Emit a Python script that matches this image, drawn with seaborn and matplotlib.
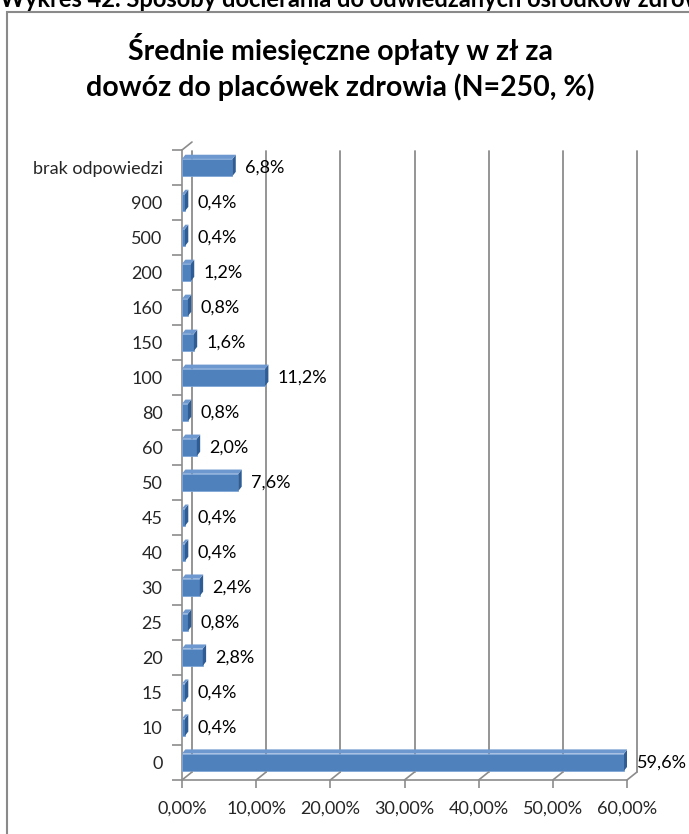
import matplotlib
matplotlib.use("Agg")
import matplotlib.pyplot as plt
import matplotlib.transforms as mtransforms
import seaborn as sns
import pandas as pd
from matplotlib.patches import Polygon, Rectangle
from matplotlib.lines import Line2D

categories = ["brak odpowiedzi", "900", "500", "200", "160", "150", "100", "80",
              "60", "50", "45", "40", "30", "25", "20", "15", "10", "0"]
values = [6.8, 0.4, 0.4, 1.2, 0.8, 1.6, 11.2, 0.8, 2.0, 7.6, 0.4, 0.4, 2.4, 0.8,
          2.8, 0.4, 0.4, 59.6]
x_ticks = [0, 10, 20, 30, 40, 50, 60]
x_ticklabels = ["0,00%", "10,00%", "20,00%", "30,00%", "40,00%", "50,00%", "60,00%"]
title = "Średnie miesięczne opłaty w zł za\ndowóz do placówek zdrowia (N=250, %)"
header = "Wykres 42. Sposoby docierania do odwiedzanych ośrodków zdrowia"

sns.set_style("white")
plt.rcParams["font.family"] = ["Lato", "DejaVu Sans"]

df = pd.DataFrame({"cat": categories, "val": values})

W, H = 689, 834
fig = plt.figure(figsize=(6.89, 8.34), dpi=100)
ax = fig.add_axes([182 / W, 54 / H, 445 / W, 630 / H])

# outer chart frame
fig.patches.append(Rectangle((7 / W, -0.05), 1.2, 1.05 - 12 / H,
                             transform=fig.transFigure, fill=False,
                             edgecolor="#8a8a8a", lw=1.5))
fig.text(0.0, 1 - 7 / H, header, fontsize=17, fontweight="bold",
         va="baseline", ha="left", color="black")
fig.text(340 / W, 1 - 67 / H, title, fontsize=20.5, fontweight="bold",
         ha="center", va="center", linespacing=1.35, color="black")

sns.barplot(data=df, y="cat", x="val", orient="h", color="#4F81BD",
            width=0.49, saturation=1, edgecolor="#7FA6D6", linewidth=0.6,
            ax=ax, zorder=3)

# pseudo 3D faces on each bar
dx, dy = 0.45, 0.12
for p in list(ax.patches):
    x0, y0 = p.get_x(), p.get_y()
    w, h = p.get_width(), p.get_height()
    x1, y1 = x0 + w, y0 + h
    side = Polygon([(x1, y0), (x1 + dx, y0 - dy), (x1 + dx, y1 - dy), (x1, y1)],
                   closed=True, facecolor="#2E5C93", edgecolor="none", zorder=3)
    top = Polygon([(x0, y0), (x0 + dx, y0 - dy), (x1 + dx, y0 - dy), (x1, y0)],
                  closed=True, facecolor="#6C97CF", edgecolor="none", zorder=3)
    ax.add_patch(side)
    ax.add_patch(top)

for i, v in enumerate(values):
    ax.text(v + 1.7, i, f"{v:.1f}%".replace(".", ","), va="center", ha="left",
            fontsize=13, color="black", zorder=4)

ax.set_xlim(0, 60)
ax.set_ylim(17.51, -0.46)
ax.set_xticks(x_ticks)
ax.set_xticklabels(x_ticklabels, fontsize=13)
ax.set_yticks(range(len(categories)))
ax.set_yticklabels(categories, fontsize=13)
ax.set_xlabel("")
ax.set_ylabel("")
ax.grid(False)

# back-wall gridlines (shifted for the 3D depth) and floor diagonals
gc = "#8c8c8c"
shift = mtransforms.ScaledTranslation(10 / 100, 8 / 100, fig.dpi_scale_trans)
back = ax.get_xaxis_transform() + shift
for t in x_ticks:
    ax.plot([t, t], [0.0, 0.985], transform=back, color=gc, lw=1.3, zorder=1,
            clip_on=False)
for t in x_ticks:
    tr0 = ax.get_xaxis_transform()
    p0 = tr0.transform((t, 0))
    p1 = (tr0 + shift).transform((t, 0))
    fig.lines.append(Line2D([p0[0] / W, p1[0] / W], [p0[1] / H, p1[1] / H],
                            transform=fig.transFigure, color=gc, lw=1.2))
tl0 = ax.transAxes.transform((0, 1))
tl1 = (ax.transAxes + shift).transform((0, 1.0))
fig.lines.append(Line2D([tl0[0] / W, tl1[0] / W], [tl0[1] / H, tl1[1] / H],
                        transform=fig.transFigure, color=gc, lw=1.2))

for s in ["top", "right"]:
    ax.spines[s].set_visible(False)
for s in ["left", "bottom"]:
    ax.spines[s].set_color(gc)
    ax.spines[s].set_linewidth(1.2)
ax.tick_params(axis="x", length=6, color=gc, width=1.2, pad=9, bottom=True)
ax.set_yticks([i + 0.5 for i in range(-1, len(categories))], minor=True)
ax.tick_params(axis="y", which="major", length=0, pad=14)
ax.tick_params(axis="y", which="minor", length=7, color=gc, width=1.2, left=True)
ax.set_facecolor("none")

fig.savefig("out.png", dpi=100)
